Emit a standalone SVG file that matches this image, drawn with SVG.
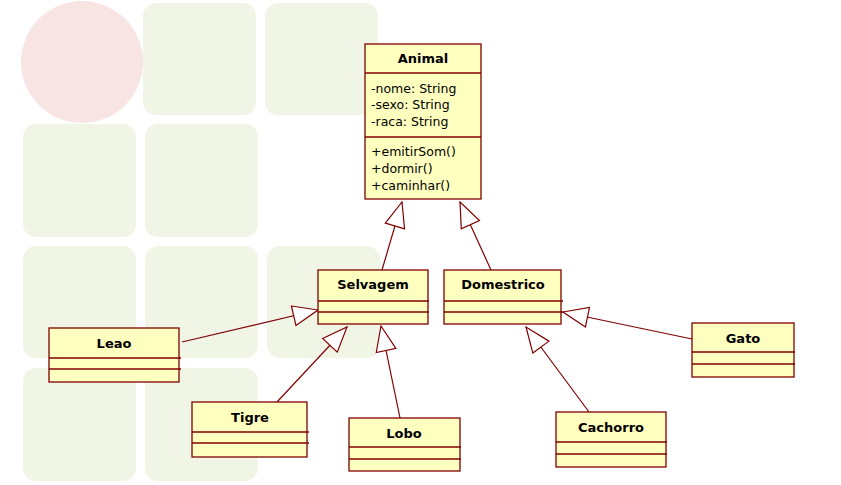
<svg xmlns="http://www.w3.org/2000/svg" width="841" height="485" viewBox="0 0 841 485">
<style>
.bg{fill:#f1f5e6}
.box{fill:#ffffc0;stroke:#800000;stroke-width:1.3}
.div{stroke:#800000;stroke-width:1.3}
.title{font-family:"DejaVu Sans",Verdana,sans-serif;font-size:13px;font-weight:bold;text-anchor:middle;fill:#000}
.mem{font-family:"DejaVu Sans",Verdana,sans-serif;font-size:12.5px;fill:#000}
.conn{stroke:#800000;stroke-width:1.2;fill:none}
</style>
<defs>
<marker id="gen" viewBox="0 0 27 22" refX="26" refY="11" markerWidth="27" markerHeight="22" markerUnits="userSpaceOnUse" orient="auto">
<path d="M1,1 L26,11 L1,21 Z" fill="#ffffff" stroke="#800000" stroke-width="1.2"/>
</marker>
</defs>
<rect width="841" height="485" fill="#ffffff"/>
<g id="background">
<circle cx="82" cy="62" r="61" fill="#f9e4e4"/>
<rect class="bg" x="143" y="3" width="113" height="112" rx="13"/>
<rect class="bg" x="265" y="3" width="113" height="112" rx="13"/>
<rect class="bg" x="23" y="124" width="113" height="113" rx="13"/>
<rect class="bg" x="145" y="124" width="113" height="113" rx="13"/>
<rect class="bg" x="23" y="246" width="113" height="112" rx="13"/>
<rect class="bg" x="145" y="246" width="113" height="112" rx="13"/>
<rect class="bg" x="267" y="246" width="113" height="112" rx="13"/>
<rect class="bg" x="23" y="368" width="113" height="113" rx="13"/>
<rect class="bg" x="145" y="368" width="113" height="113" rx="13"/>
</g>
<g id="connectors">
<line class="conn" x1="382" y1="270" x2="402" y2="202" marker-end="url(#gen)"/>
<line class="conn" x1="491" y1="270" x2="460" y2="202" marker-end="url(#gen)"/>
<line class="conn" x1="182" y1="342" x2="318" y2="310" marker-end="url(#gen)"/>
<line class="conn" x1="277" y1="402" x2="347" y2="327" marker-end="url(#gen)"/>
<line class="conn" x1="400" y1="418" x2="381" y2="326" marker-end="url(#gen)"/>
<line class="conn" x1="692" y1="339" x2="563" y2="312" marker-end="url(#gen)"/>
<line class="conn" x1="589" y1="412" x2="526" y2="327" marker-end="url(#gen)"/>
</g>
<g id="Animal">
<rect class="box" x="365" y="44" width="116" height="155"/>
<line class="div" x1="365" y1="73" x2="481" y2="73"/>
<line class="div" x1="365" y1="137" x2="481" y2="137"/>
<text class="title" x="423" y="63">Animal</text>
<text class="mem" x="371" y="93">-nome: String</text>
<text class="mem" x="371" y="109">-sexo: String</text>
<text class="mem" x="371" y="126">-raca: String</text>
<text class="mem" x="371" y="156">+emitirSom()</text>
<text class="mem" x="371" y="173">+dormir()</text>
<text class="mem" x="371" y="190">+caminhar()</text>
</g>
<g id="Selvagem">
<rect class="box" x="318" y="270" width="110" height="54"/>
<line class="div" x1="318" y1="301" x2="429" y2="301"/>
<line class="div" x1="318" y1="312" x2="429" y2="312"/>
<text class="title" x="373" y="289">Selvagem</text>
</g>
<g id="Domestrico">
<rect class="box" x="444" y="270" width="117" height="54"/>
<line class="div" x1="444" y1="301" x2="563" y2="301"/>
<line class="div" x1="444" y1="312" x2="563" y2="312"/>
<text class="title" x="503" y="289">Domestrico</text>
</g>
<g id="Leao">
<rect class="box" x="49" y="328" width="130" height="54"/>
<line class="div" x1="49" y1="358" x2="181" y2="358"/>
<line class="div" x1="49" y1="369" x2="181" y2="369"/>
<text class="title" x="114" y="348">Leao</text>
</g>
<g id="Tigre">
<rect class="box" x="192" y="402" width="115" height="55"/>
<line class="div" x1="192" y1="432" x2="309" y2="432"/>
<line class="div" x1="192" y1="443" x2="309" y2="443"/>
<text class="title" x="250" y="422">Tigre</text>
</g>
<g id="Lobo">
<rect class="box" x="349" y="418" width="111" height="53"/>
<line class="div" x1="349" y1="447" x2="461" y2="447"/>
<line class="div" x1="349" y1="459" x2="461" y2="459"/>
<text class="title" x="404" y="438">Lobo</text>
</g>
<g id="Cachorro">
<rect class="box" x="556" y="412" width="110" height="55"/>
<line class="div" x1="556" y1="442" x2="667" y2="442"/>
<line class="div" x1="556" y1="454" x2="667" y2="454"/>
<text class="title" x="611" y="432">Cachorro</text>
</g>
<g id="Gato">
<rect class="box" x="692" y="323" width="102" height="54"/>
<line class="div" x1="692" y1="352" x2="795" y2="352"/>
<line class="div" x1="692" y1="364" x2="795" y2="364"/>
<text class="title" x="743" y="343">Gato</text>
</g>
</svg>
